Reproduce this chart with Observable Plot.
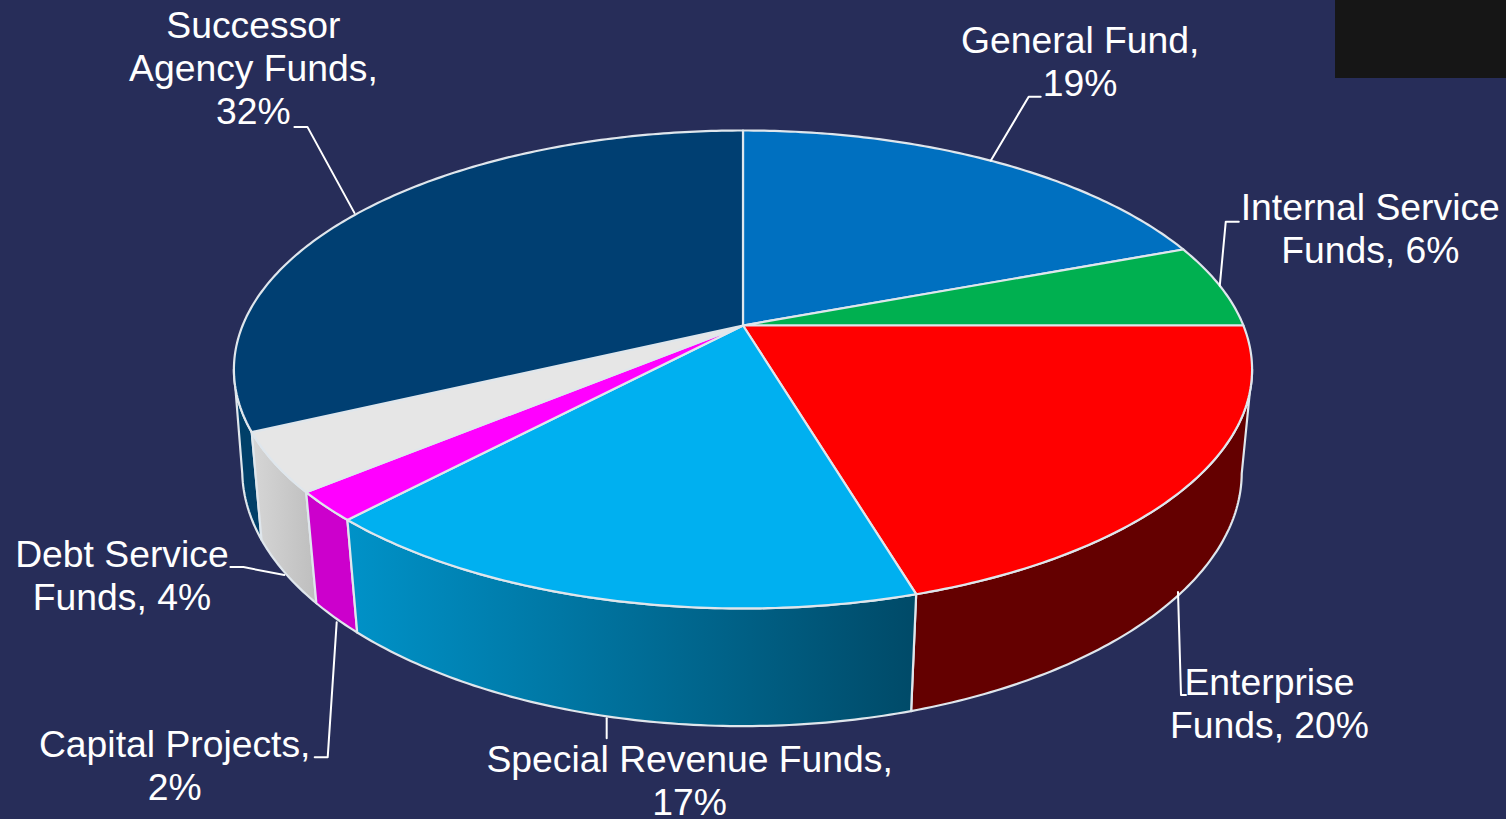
<!DOCTYPE html>
<html>
<head>
<meta charset="utf-8">
<script src="https://cdn.jsdelivr.net/npm/d3@7"></script>
<script src="https://cdn.jsdelivr.net/npm/@observablehq/plot@0.6"></script>
<style>
  html, body { margin: 0; padding: 0; background: #272d59; overflow: hidden; }
  #wrap { position: relative; width: 1506px; height: 819px; }
  #wrap svg { display: block; background: transparent; }
  #patch { position: absolute; left: 1335px; top: 0; width: 171px; height: 78px; background: #161616; }
</style>
</head>
<body>
<div id="wrap"><div id="chart"></div><div id="patch"></div></div>
<script>
// ---- data (clockwise from 12 o'clock) ----
const names = ["General Fund", "Internal Service Funds", "Enterprise Funds", "Special Revenue Funds", "Capital Projects", "Debt Service Funds", "Successor Agency Funds"];
const shares = [19.3, 5.7, 20.4, 16.6, 2, 4, 32];
const labelTexts = ["General Fund,\n19%", "Internal Service\nFunds, 6%", "Enterprise\nFunds, 20%", "Special Revenue Funds,\n17%", "Capital Projects,\n2%", "Debt Service\nFunds, 4%", "Successor\nAgency Funds,\n32%"];

// ---- styling ----
const topColors = ["#0070c0", "#00b050", "#ff0000", "#00b0f0", "#ff00ff", "#e6e6e6", "#003f72"];
const wallColors = ["#004a80", "#007a38", "#640000", "url(#specialWall)", "#cc00cc", "url(#debtWall)", "#003f68"];
const edge = "#dfe6ec";

// ---- layout: offsets from each slice's rim anchor ----
const leaderOffsets = [
  [[0, 0], [38, -64], [50, -64]],
  [[0, 0], [6, -64], [19, -64]],
  [[-5, 1], [-2, 104], [3, 104]],
  [[0, 2], [0, 22]],
  [[1, 4], [-8, 139], [-21, 139]],
  [[0, 3], [-41, -5], [-54, -5]],
  [[-4, 0], [-51, -86], [-64, -86]]
];
const labelOffsets = [[89.5, -100], [150.5, -58], [86.5, 112], [83, 63.5], [-161, 146.5], [-162.5, 2.5], [-105, -146]];

// ---- perspective projection of the pie disc ----
const apex = [742.5, 325], rx = 500.4, ry = 230.9, k = 0.184;
const tangent = Math.asin(Math.sqrt(1 - k * k)) / (2 * Math.PI); // silhouette of the disc, as a share of the turn
const wallFrom = 0.25 + (0.25 - tangent), wallTo = 0.75 - (0.25 - tangent);
function topPoint(share) {
  const t = share * 2 * Math.PI, u = Math.sin(t), v = -Math.cos(t), w = 1 / (1 - k * v);
  return {x: apex[0] + rx * u * w, y: apex[1] + ry * v * w, v};
}
function basePoint(share) {
  const p = topPoint(share);
  const s = 0.98 - (p.y - 433) * 0.000056;
  const lean = p.x > apex[0] ? 3 * (1 - p.v) * (1 - p.v) : 0;
  return {x: apex[0] + (p.x - apex[0]) * s - lean, y: 1.057 * p.y + 83, v: p.v};
}
function arc(fn, a, b) {
  const n = Math.max(2, Math.ceil((b - a) * 500));
  return d3.range(n + 1).map(i => fn(a + (b - a) * i / n));
}

const cum = d3.cumsum(shares).map(d => d / d3.sum(shares));
const slices = names.map((name, i) => ({name, i, a: i ? cum[i - 1] : 0, b: cum[i]}));

const polygon = pts => [...pts, pts[0]];
const line = (pts, fill, strokeWidth = 2.2) => Plot.line(pts, {x: "x", y: "y", fill, stroke: edge, strokeWidth, strokeLinejoin: "round", curve: "linear"});

// Walls (painted before the top faces)
const wallOrder = [6, 5, 4, 2, 3];
const wallMarks = wallOrder.map(i => {
  const s = slices[i], a = Math.max(s.a, wallFrom), b = Math.min(s.b, wallTo);
  return line(polygon([...arc(topPoint, a, b), ...arc(basePoint, a, b).reverse()]), wallColors[i]);
});

// Top faces
const topMarks = slices.map(s =>
  line(polygon([{x: apex[0], y: apex[1]}, ...arc(topPoint, s.a, s.b)]), topColors[s.i])
);

// Anchors, leaders, labels
const anchors = slices.map(s => {
  const m = (s.a + s.b) / 2;
  return topPoint(m).v > 0 ? basePoint(m) : topPoint(m);
});
const leaders = leaderOffsets.flatMap((pts, i) => pts.map(([dx, dy]) => ({name: names[i], x: anchors[i].x + dx, y: anchors[i].y + dy})));
const labels = labelTexts.map((text, i) => ({text, x: anchors[i].x + labelOffsets[i][0], y: anchors[i].y + labelOffsets[i][1]}));

// Gradients for the shaded walls
const defs = () => {
  const d = d3.create("svg:defs");
  const add = (id, from, to) => {
    const g = d.append("linearGradient").attr("id", id).attr("x1", 0).attr("x2", 1).attr("y1", 0).attr("y2", 0);
    g.append("stop").attr("offset", "0%").attr("stop-color", from);
    g.append("stop").attr("offset", "100%").attr("stop-color", to);
  };
  add("specialWall", "#0092c8", "#004a68");
  add("debtWall", "#d6d6d6", "#bebebe");
  return d.node();
};

const chart = Plot.plot({
  width: 1506, height: 819,
  margin: 0,
  x: {domain: [0, 1506], range: [0, 1506], axis: null},
  y: {domain: [0, 819], range: [0, 819], axis: null},
  style: {background: "transparent"},
  marks: [
    defs,
    ...wallMarks,
    ...topMarks,
    Plot.line(leaders, {x: "x", y: "y", z: "name", stroke: "#ffffff", strokeWidth: 2, curve: "linear"}),
    Plot.text(labels, {x: "x", y: "y", text: "text", fill: "#ffffff", fontSize: 37.3, fontFamily: "Liberation Sans, Arial, sans-serif", textAnchor: "middle", lineAnchor: "middle", lineHeight: 1.153})
  ]
});
document.getElementById("chart").append(chart);
</script>
</body>
</html>
